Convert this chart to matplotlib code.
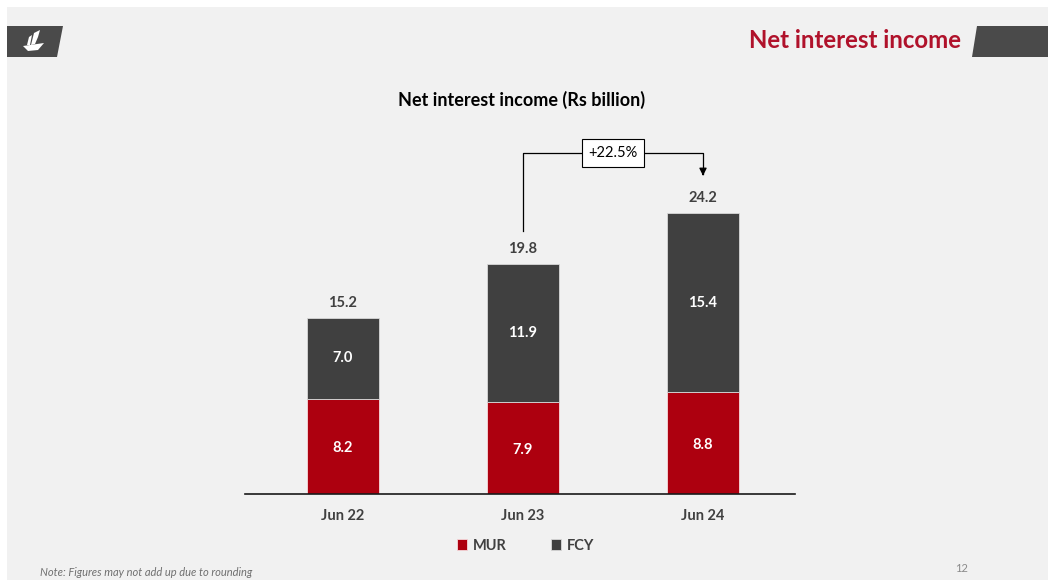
import numpy as np
import matplotlib.pyplot as plt
from matplotlib.patches import Polygon, Rectangle

periods = ['Jun 22', 'Jun 23', 'Jun 24']
mur = [8.2, 7.9, 8.8]
fcy = [7.0, 11.9, 15.4]
totals = [15.2, 19.8, 24.2]
growth_label = '+22.5%'

red = '#ad000f'
dark = '#404040'
bg = '#f1f1f1'

plt.rcParams['font.family'] = ['Lato', 'DejaVu Sans']

W, H = 1048, 583
fig = plt.figure(figsize=(W / 100, H / 100), dpi=100)
fig.patch.set_facecolor('white')

# slide canvas in pixel coords
bgax = fig.add_axes([0, 0, 1, 1])
bgax.set_xlim(0, W)
bgax.set_ylim(H, 0)
bgax.axis('off')
bgax.add_patch(Rectangle((7, 7), W - 7, 573, color=bg, lw=0))
# header banners
bgax.add_patch(Polygon([(7, 26), (63, 26), (57, 57), (7, 57)], color='#4a4a4a', lw=0))
bgax.add_patch(Polygon([(977, 26), (1048, 26), (1048, 57), (972, 57)], color='#4a4a4a', lw=0))
# ship logo
bgax.add_patch(Polygon([(34, 33), (40, 30), (38, 37), (35, 44), (31, 45)], color='white', lw=0))
bgax.add_patch(Polygon([(29, 37), (32, 35), (30, 45), (27, 45)], color='white', lw=0))
bgax.add_patch(Polygon([(23, 46), (44, 43), (38, 50), (28, 51)], color='white', lw=0))
bgax.text(961, 41, 'Net interest income', color='#b0122b', fontsize=17.3,
          fontweight='bold', ha='right', va='center')
bgax.text(40, 572, 'Note: Figures may not add up due to rounding', color='#707070',
          fontsize=8, style='italic', ha='left', va='center')
bgax.text(962, 568, '12', color='#8a8a8a', fontsize=8, ha='center', va='center')
bgax.text(522, 100, 'Net interest income (Rs billion)', color='black', fontsize=13,
          fontweight='bold', ha='center', va='center')

# chart axes: x 245..795 px, y baseline 494 px, 11.6 px per unit
x0, x1 = 245, 795
ybase, ytop = 494, 146
ax = fig.add_axes([x0 / W, 1 - ybase / H, (x1 - x0) / W, (ybase - ytop) / H])
ax.set_facecolor('none')
ax.set_xlim(-0.544, 2.511)
ax.set_ylim(0, (ybase - ytop) / 11.6)

x = np.arange(len(periods))
ax.bar(x, mur, width=0.4, color=red, edgecolor='#f6d9dc', linewidth=0.6, label='MUR', zorder=2)
ax.bar(x, fcy, width=0.4, bottom=mur, color=dark, edgecolor='#d8d8d8', linewidth=0.6,
       label='FCY', zorder=2)

for i in range(len(periods)):
    ax.text(x[i], mur[i] / 2 - 0.15, f'{mur[i]:.1f}', color='white', fontsize=10.5,
            fontweight='bold', ha='center', va='center')
    ax.text(x[i], mur[i] + fcy[i] / 2, f'{fcy[i]:.1f}', color='white', fontsize=10.5,
            fontweight='bold', ha='center', va='center')
    ax.text(x[i], totals[i] + 0.7, f'{totals[i]:.1f}', color='#404040', fontsize=10.5,
            fontweight='bold', ha='center', va='bottom')

for s in ['top', 'right', 'left']:
    ax.spines[s].set_visible(False)
ax.spines['bottom'].set_color('#1a1a1a')
ax.spines['bottom'].set_linewidth(1.2)
ax.set_yticks([])
ax.set_xticks(x)
ax.set_xticklabels(periods, fontsize=10.5, fontweight='bold', color='#404040')
ax.tick_params(axis='x', length=0, pad=11)

# growth connector Jun 23 -> Jun 24
yline = totals[2] + 5.2
ax.plot([x[1], x[1], x[2], x[2]], [totals[1] + 2.9, yline, yline, totals[2] + 3.4],
        color='black', lw=0.9, zorder=3)
ax.annotate('', xy=(x[2], totals[2] + 3.0), xytext=(x[2], totals[2] + 3.6),
            arrowprops=dict(arrowstyle='-|>', color='black', lw=0.9, mutation_scale=11))
ax.text((x[1] + x[2]) / 2, yline, growth_label, fontsize=10.5, color='black',
        ha='center', va='center', zorder=4,
        bbox=dict(boxstyle='square,pad=0.45', fc='white', ec='black', lw=0.8))

ax.legend(loc='center', bbox_to_anchor=(0.51, -0.148), ncol=2, frameon=False,
          handlelength=0.7, handleheight=0.7, columnspacing=3.0, handletextpad=0.4,
          prop={'weight': 'bold', 'size': 10.5}, labelcolor='#404040')

fig.savefig('out.png', dpi=100, facecolor=fig.get_facecolor())
